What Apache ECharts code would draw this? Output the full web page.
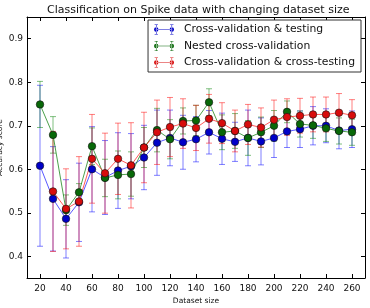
<!DOCTYPE html>
<html>
<head>
<meta charset="utf-8">
<script src="https://cdn.jsdelivr.net/npm/echarts@6/dist/echarts.min.js"></script>
<style>
  html, body { margin: 0; padding: 0; background: #fff; }
  #chart { width: 370px; height: 308px; }
</style>
</head>
<body>
<div id="chart"></div>
<script>
// dataset sizes
var sizes = [20, 30, 40, 50, 60, 70, 80, 90, 100, 110, 120, 130, 140, 150, 160, 170, 180, 190, 200, 210, 220, 230, 240, 250, 260];
// Cross-validation & testing
var cvTestMean = [0.608, 0.532, 0.486, 0.524, 0.600, 0.581, 0.597, 0.607, 0.627, 0.661, 0.672, 0.662, 0.669, 0.685, 0.670, 0.663, 0.672, 0.664, 0.672, 0.687, 0.692, 0.700, 0.700, 0.689, 0.692];
var cvTestErr = [0.185, 0.120, 0.090, 0.090, 0.098, 0.085, 0.087, 0.075, 0.074, 0.075, 0.064, 0.062, 0.052, 0.050, 0.059, 0.045, 0.064, 0.054, 0.045, 0.037, 0.042, 0.044, 0.039, 0.042, 0.042];
// Nested cross-validation
var nestedMean = [0.749, 0.679, 0.506, 0.547, 0.653, 0.580, 0.587, 0.589, 0.650, 0.690, 0.669, 0.711, 0.712, 0.754, 0.685, 0.688, 0.672, 0.685, 0.700, 0.732, 0.704, 0.701, 0.694, 0.688, 0.685];
var nestedErr = [0.053, 0.042, 0.035, 0.020, 0.042, 0.043, 0.055, 0.051, 0.046, 0.050, 0.045, 0.030, 0.035, 0.031, 0.040, 0.040, 0.040, 0.035, 0.035, 0.025, 0.030, 0.030, 0.030, 0.030, 0.030];
// Cross-validation & cross-testing (no value at 20)
var crossMean = [null, 0.549, 0.509, 0.526, 0.624, 0.591, 0.624, 0.609, 0.650, 0.685, 0.697, 0.705, 0.695, 0.716, 0.706, 0.688, 0.703, 0.696, 0.714, 0.720, 0.723, 0.726, 0.726, 0.730, 0.724];
var crossErr = [null, 0.138, 0.092, 0.103, 0.102, 0.092, 0.082, 0.098, 0.081, 0.074, 0.068, 0.057, 0.052, 0.056, 0.047, 0.048, 0.046, 0.045, 0.045, 0.042, 0.040, 0.040, 0.040, 0.044, 0.036];

var xTicks = [20, 40, 60, 80, 100, 120, 140, 160, 180, 200, 220, 240, 260];
var yTicks = [0.4, 0.5, 0.6, 0.7, 0.8, 0.9];

var names = ['Cross-validation & testing', 'Nested cross-validation', 'Cross-validation & cross-testing'];
var lineColors = ['#2020ff', '#108010', '#ff2020'];
var markColors = ['#0000c8', '#086808', '#d80c0c'];
var barColors = ['#0000ff', '#008000', '#ff0000'];

var FONT = 'DejaVu Sans';
var legendIcon = 'path://M5,11.4L35,11.4L35,12.6L5,12.6Z' +
	'M5.5,3L6.5,3L6.5,21L5.5,21Z M3,3L9,3L9,4L3,4Z M3,20L9,20L9,21L3,21Z' +
	'M33.5,3L34.5,3L34.5,21L33.5,21Z M31,3L37,3L37,4L31,4Z M31,20L37,20L37,21L31,21Z' +
	'M2,12A4,4,0,1,0,10,12A4,4,0,1,0,2,12Z M30,12A4,4,0,1,0,38,12A4,4,0,1,0,30,12Z';

function pairs(mean) {
	var out = [];
	for (var i = 0; i < sizes.length; i++) {
		if (mean[i] != null) out.push([sizes[i], mean[i]]);
	}
	return out;
}
function bars(mean, err) {
	var out = [];
	for (var i = 0; i < sizes.length; i++) {
		if (mean[i] != null) out.push([sizes[i], mean[i] - err[i], mean[i] + err[i]]);
	}
	return out;
}
function errorSeries(data, color) {
	return {
		type: 'custom',
		silent: true,
		z: 1,
		data: data,
		encode: { x: 0, y: [1, 2] },
		renderItem: function(params, api) {
			var lo = api.coord([api.value(0), api.value(1)]);
			var hi = api.coord([api.value(0), api.value(2)]);
			var st = { stroke: color, lineWidth: 1, opacity: 0.5 };
			return {
				type: 'group',
				children: [
					{ type: 'line', shape: { x1: lo[0], y1: lo[1], x2: hi[0], y2: hi[1] }, style: st },
					{ type: 'line', shape: { x1: lo[0] - 3, y1: lo[1], x2: lo[0] + 3, y2: lo[1] }, style: st },
					{ type: 'line', shape: { x1: hi[0] - 3, y1: hi[1], x2: hi[0] + 3, y2: hi[1] }, style: st }
				]
			};
		}
	};
}
function lineSeries(idx, data) {
	return {
		name: names[idx],
		type: 'line',
		z: 3,
		data: data,
		symbol: 'circle',
		symbolSize: 7.5,
		color: lineColors[idx],
		lineStyle: { color: lineColors[idx], width: 1, opacity: 0.75 },
		itemStyle: { color: markColors[idx], borderColor: '#111', borderWidth: 0.6 }
	};
}

var legendData = [];
for (var k = 0; k < names.length; k++) {
	legendData.push({ name: names[k], itemStyle: { color: markColors[k], borderWidth: 0, opacity: 1 } });
}

var myChart = echarts.init(document.getElementById('chart'));
var axisCommon = {
	type: 'value',
	axisLine: { show: true, lineStyle: { color: '#000', width: 1 } },
	splitLine: { show: false }
};
var option = {
	animation: false,
	textStyle: { fontFamily: FONT },
	title: {
		text: 'Classification on Spike data with changing dataset size',
		left: 42,
		top: 0,
		textStyle: { fontFamily: FONT, fontSize: 11, fontWeight: 'normal', color: '#111' }
	},
	legend: {
		data: legendData,
		right: 9,
		top: 20,
		orient: 'vertical',
		itemGap: 5.5,
		itemWidth: 20,
		itemHeight: 12,
		icon: legendIcon,
		itemStyle: { borderWidth: 0 },
		backgroundColor: '#fff',
		borderColor: '#333',
		borderWidth: 1,
		borderRadius: 0,
		padding: [4, 6, 4, 6],
		textStyle: { fontFamily: FONT, fontSize: 10.8, color: '#111', padding: [0, 0, 0, 5] }
	},
	grid: { left: 27, right: 5, top: 17, bottom: 30, containLabel: false, outerBoundsMode: 'none' },
	xAxis: [
		Object.assign({}, axisCommon, {
			min: 10, max: 270,
			name: 'Dataset size',
			nameLocation: 'middle',
			nameGap: 19,
			nameMoveOverlap: false,
			nameTextStyle: { fontFamily: FONT, fontSize: 7.5, color: '#111' },
			axisTick: { show: true, inside: true, length: 4, customValues: xTicks, lineStyle: { color: '#000' } },
			axisLabel: { customValues: xTicks, margin: 6, fontFamily: FONT, fontSize: 9, color: '#111' }
		}),
		Object.assign({}, axisCommon, {
			min: 10, max: 270, position: 'top',
			axisTick: { show: true, inside: true, length: 4, customValues: xTicks, lineStyle: { color: '#000' } },
			axisLabel: { show: false }
		})
	],
	yAxis: [
		Object.assign({}, axisCommon, {
			min: 0.35, max: 0.95,
			name: 'Accuracy score',
			nameLocation: 'middle',
			nameGap: 23,
			nameMoveOverlap: false,
			nameTextStyle: { fontFamily: FONT, fontSize: 7.5, color: '#111' },
			axisTick: { show: true, inside: true, length: 4, customValues: yTicks, lineStyle: { color: '#000' } },
			axisLabel: { customValues: yTicks, margin: 4, fontFamily: FONT, fontSize: 9, color: '#111',
				formatter: function(v) { return v.toFixed(1); } }
		}),
		Object.assign({}, axisCommon, {
			min: 0.35, max: 0.95, position: 'right',
			axisTick: { show: true, inside: true, length: 4, customValues: yTicks, lineStyle: { color: '#000' } },
			axisLabel: { show: false }
		})
	],
	series: [
		errorSeries(bars(cvTestMean, cvTestErr), barColors[0]),
		errorSeries(bars(nestedMean, nestedErr), barColors[1]),
		errorSeries(bars(crossMean, crossErr), barColors[2]),
		lineSeries(0, pairs(cvTestMean)),
		lineSeries(1, pairs(nestedMean)),
		lineSeries(2, pairs(crossMean))
	]
};
myChart.setOption(option);
</script>
</body>
</html>
